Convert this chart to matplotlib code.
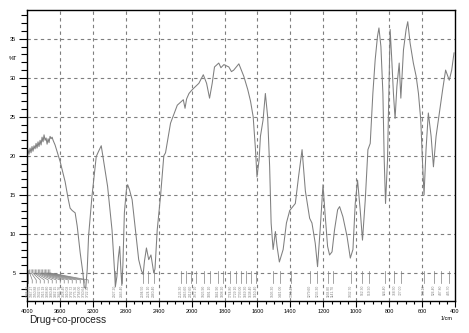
import numpy as np
import matplotlib
matplotlib.use("Agg")
import matplotlib.pyplot as plt
from matplotlib.ticker import FixedLocator

# SPECTRUM
wn = [4000, 3988, 3976, 3963, 3951, 3939, 3927, 3915, 3902, 3890, 3878, 3866,
      3854, 3841, 3829, 3817, 3805, 3793, 3780, 3768, 3756, 3744, 3732, 3720,
      3707, 3695, 3683, 3659, 3598, 3537, 3500, 3476, 3451, 3415, 3390, 3354,
      3321, 3305, 3287, 3268, 3252, 3211, 3159, 3134, 3098, 3061, 3021, 2967,
      2935, 2927, 2908, 2890, 2874, 2860, 2848, 2835, 2817, 2793, 2777, 2756,
      2723, 2683, 2643, 2610, 2589, 2573, 2549, 2521, 2494, 2460, 2445, 2418,
      2378, 2338, 2317, 2256, 2174, 2101, 2080, 2061, 2032, 2000, 1986, 1956,
      1929, 1909, 1891, 1875, 1861, 1835, 1822, 1804, 1774, 1758, 1744, 1713,
      1683, 1659, 1642, 1626, 1612, 1603, 1590, 1582, 1566, 1552, 1538, 1526,
      1517, 1505, 1491, 1481, 1467, 1444, 1424, 1404, 1370, 1350, 1329, 1309,
      1283, 1269, 1249, 1235, 1218, 1202, 1188, 1174, 1162, 1147, 1132, 1113,
      1101, 1081, 1056, 1036, 1020, 1006, 992, 976, 962, 945, 929, 915, 899,
      885, 871, 862, 850, 838, 830, 822, 810, 802, 794, 784, 774, 764, 753,
      739, 729, 713, 697, 687, 673, 653, 636, 622, 608, 598, 588, 576, 562,
      545, 531, 515, 495, 475, 457, 435, 420, 406]
trans = [20.3, 20.8, 20.2, 21.0, 20.4, 21.2, 20.6, 21.3, 20.9, 21.6, 21.0, 21.8,
         21.2, 22.0, 21.4, 22.4, 21.8, 22.7, 22.0, 22.3, 21.5, 22.2, 21.7, 22.5,
         22.2, 22.4, 22.0, 21.4, 19.3, 16.7, 14.5, 13.3, 13.0, 12.7, 11.0, 7.6,
         5.0, 3.2, 3.0, 5.5, 9.7, 14.8, 19.9, 20.5, 21.3, 18.8, 16.1, 10.5,
         5.0, 3.2, 4.5, 7.0, 8.4, 5.5, 3.4, 6.0, 12.7, 15.6, 16.3, 15.7,
         14.4, 10.5, 6.7, 5.3, 4.8, 6.5, 8.2, 6.7, 7.3, 5.0, 5.5, 10.5,
         14.8, 20.0, 20.4, 24.2, 26.5, 27.2, 26.1, 27.3, 28.0, 28.4, 28.7, 29.3,
         30.4, 29.3, 27.4, 29.3, 31.4, 31.9, 31.3, 31.7, 31.4, 30.8, 31.0, 31.8,
         30.2, 28.5, 27.0, 25.0, 20.8, 17.3, 19.5, 22.5, 24.6, 28.0, 25.0, 18.6,
         11.4, 8.0, 10.3, 8.4, 6.4, 8.0, 11.4, 13.0, 13.9, 17.4, 20.8, 15.5,
         12.0, 11.4, 8.8, 5.8, 10.9, 16.3, 12.2, 8.4, 7.3, 7.7, 10.5, 13.1,
         13.5, 12.2, 9.7, 6.9, 8.0, 13.9, 16.9, 13.1, 9.2, 14.4, 20.8, 21.6, 28.0,
         32.3, 35.3, 36.4, 34.0, 28.0, 19.5, 13.9, 19.5, 28.0, 36.2, 32.3, 28.0, 24.8, 28.9,
         31.9, 27.4, 33.6, 36.2, 37.2, 34.5, 31.9, 30.2, 28.0, 24.6, 19.5, 15.0, 20.8,
         25.5, 22.5, 18.6, 22.5, 25.5, 28.5, 31.0, 29.7, 31.0, 33.2]

# PEAK PICKS
left_peaks = [3985, 3968, 3950, 3932, 3915, 3898, 3880, 3862, 3845, 3828,
              3810, 3792, 3775, 3758, 3740, 3722]
left_labels = ["3984.62", "3967.27", "3950.88", "3932.55", "3915.19", "3898.80",
               "3880.48", "3862.15", "3845.76", "3828.40", "3810.08", "3792.72",
               "3775.36", "3758.00", "3740.64", "3722.32"]
peaks = [2927.2, 2845.4, 2594.5, 2524.1, 2460.4, 2126.3, 2065.6, 2012.6, 1972.1,
         1925.9, 1891.1, 1841.9, 1808.2, 1764.8, 1729.1, 1703.0, 1669.3, 1638.4,
         1610.4, 1505.3, 1461.0, 1394.4, 1279.6, 1235.3, 1168.8, 1141.7, 1032.7,
         962.3, 919.9, 824.4, 768.5, 727.0, 588.1, 526.4, 487.8, 435.7]


def fwd(w):
    w = np.asarray(w, dtype=float)
    return np.where(w >= 2000, w, 2000 - 2 * (2000 - w))


def inv(u):
    u = np.asarray(u, dtype=float)
    return np.where(u >= 2000, u, 2000 - (2000 - u) / 2)


GRAY = "#7f7f7f"
plt.rcParams["font.family"] = ["Liberation Sans", "DejaVu Sans"]

fig = plt.figure(figsize=(4.69, 3.33), dpi=100)
ax = fig.add_axes([27 / 469, 32 / 333, 428 / 469, 291 / 333])
ax.set_xscale("function", functions=(fwd, inv))
ax.set_xlim(4000, 400)
ax.set_ylim(1.4, 38.7)

ax.plot(wn, trans, color=GRAY, lw=0.75)

# peak marks
lab_u = 3985 - 48.6 * np.arange(len(left_peaks))
for p, lu, s in zip(left_peaks, lab_u, left_labels):
    ax.plot([p, p, lu, lu], [5.4, 5.0, 4.1, 3.7], color=GRAY, lw=0.5)
    ax.text(lu, 3.5, s, rotation=90, fontsize=2.4, color=GRAY,
            ha="center", va="top")
for p in peaks:
    ax.plot([p, p], [5.2, 3.7], color=GRAY, lw=0.5)
    ax.text(p, 3.5, "%.2f" % p, rotation=90, fontsize=2.4, color=GRAY,
            ha="center", va="top")

# axes styling
major = [4000, 3600, 3200, 2800, 2400, 2000, 1800, 1600, 1400, 1200, 1000, 800, 600, 400]
minor = list(range(3900, 2000, -100)) + list(range(1950, 400, -50))
ax.xaxis.set_major_locator(FixedLocator(major))
ax.xaxis.set_minor_locator(FixedLocator(minor))
ax.set_xticklabels([str(m) for m in major])
ax.yaxis.set_major_locator(FixedLocator([5, 10, 15, 20, 25, 30, 35]))
ax.yaxis.set_minor_locator(FixedLocator(range(2, 39)))
ax.tick_params(axis="both", which="major", labelsize=4, direction="out",
               width=0.8, color="black")
ax.tick_params(axis="x", which="major", length=4, pad=2)
ax.tick_params(axis="y", which="major", length=6, pad=2)
ax.tick_params(axis="x", which="minor", length=2.5, width=0.8)
ax.tick_params(axis="y", which="minor", length=4, width=0.8)
for sp in ax.spines.values():
    sp.set_linewidth(1.0)

for m in major[1:-1]:
    ax.axvline(m, color=GRAY, lw=0.8, ls=(0, (3, 3)), zorder=0)
for v in [5, 10, 15, 20, 25, 30, 35]:
    ax.axhline(v, color=GRAY, lw=0.8, ls=(0, (3, 3)), zorder=0)

fig.text(13 / 469, 1 - 59 / 333, "%T", fontsize=4, ha="center", va="center")
fig.text(447 / 469, 1 - 318 / 333, "1/cm", fontsize=4, ha="center", va="center")
fig.text(29 / 469, 1 - 320 / 333, "Drug+co-process", fontsize=7.3,
         ha="left", va="center", color="#222222")

fig.savefig("out.png", dpi=100)
